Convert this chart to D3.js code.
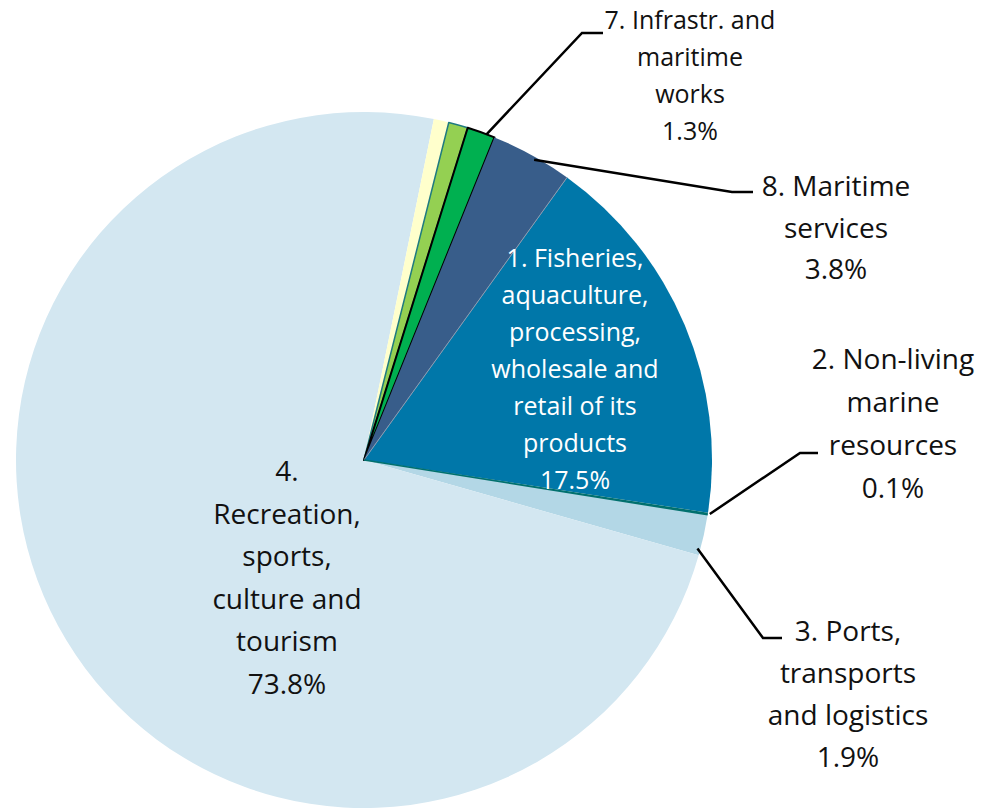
<!DOCTYPE html>
<html>
<head>
<meta charset="utf-8">
<script src="https://cdn.jsdelivr.net/npm/d3@7"></script>
<style>
  body { margin: 0; background: #fff; }
  svg { display: block; }
  text { font-family: "Open Sans", Lato, sans-serif; }
</style>
</head>
<body>
<div id="chart"></div>
<script>
// sector shares (%), clockwise from slice 1
var sectors = ['1. Fisheries', '2. Non-living', '3. Ports', '4. Recreation', '5.', '6.', '7. Infrastr.', '8. Maritime services']
var shares = [17.5, 0.1, 1.9, 73.8, 0.7, 0.9, 1.3, 3.8]
var colors = ['#0077a9', '#00706e', '#b3d7e6', '#d3e7f1', '#ffffcc', '#94d052', '#00b050', '#385d8a']
var strokes = [null, null, null, null, null, '#1f7a80', '#000', null]

// label text lines per slice (null = no label)
var labelLines = [
  ['1. Fisheries,', 'aquaculture,', 'processing,', 'wholesale and', 'retail of its', 'products', '17.5%'],
  ['2. Non-living', 'marine', 'resources', '0.1%'],
  ['3. Ports,', 'transports', 'and logistics', '1.9%'],
  ['4.', 'Recreation,', 'sports,', 'culture and', 'tourism', '73.8%'],
  null,
  null,
  ['7. Infrastr. and', 'maritime', 'works', '1.3%'],
  ['8. Maritime', 'services', '3.8%']
]

var width = 990, height = 808
var cx = 364, cy = 460, radius = 348
var startDeg = 35.7

var svg = d3.select('#chart').append('svg')
  .attr('width', width).attr('height', height)

var pie = d3.pie().sort(null).value(d => d)
  .startAngle(startDeg * Math.PI / 180)
  .endAngle(startDeg * Math.PI / 180 + 2 * Math.PI)
var arcs = pie(shares)
var arc = d3.arc().innerRadius(0).outerRadius(radius)

var g = svg.append('g').attr('transform', 'translate(' + cx + ',' + cy + ')')

g.selectAll('path.slice').data(arcs).enter().append('path')
  .attr('class', 'slice')
  .attr('d', arc)
  .attr('fill', (d, i) => colors[i])
  .attr('stroke', (d, i) => strokes[i] || 'none')
  .attr('stroke-width', (d, i) => i == 6 ? 2 : 1.5)
  .attr('stroke-linejoin', 'round')

// thin grey border between slice 8 and slice 1
g.append('line')
  .attr('x1', 0).attr('y1', 0)
  .attr('x2', radius * Math.sin(arcs[0].startAngle))
  .attr('y2', -radius * Math.cos(arcs[0].startAngle))
  .attr('stroke', '#8a9bb0').attr('stroke-width', 1)
// dark edge of the 0.1% slice
g.append('line')
  .attr('x1', 0).attr('y1', 0)
  .attr('x2', radius * Math.sin(arcs[1].endAngle))
  .attr('y2', -radius * Math.cos(arcs[1].endAngle))
  .attr('stroke', '#00706e').attr('stroke-width', 1.5)

// label layout: centre x, first baseline y, line step, font size, colour
var layout = {
  0: { x: 575, y: 267, step: 37, size: 25, fill: '#fff' },
  1: { x: 893, y: 369, step: 43, size: 28, fill: '#111' },
  2: { x: 848, y: 641, step: 42, size: 28, fill: '#111' },
  3: { x: 287, y: 481, step: 42.5, size: 28, fill: '#111' },
  6: { x: 690, y: 29, step: 37, size: 25, fill: '#111' },
  7: { x: 836, y: 196, step: 41.5, size: 28, fill: '#111' }
}

// leader lines: elbow point and end of the horizontal piece
var leaders = {
  1: { frac: 0.5, rOff: 2, elbow: [800, 453], end: [818, 453] },
  2: { frac: 0.85, rOff: -3, elbow: [763, 638], end: [782, 638] },
  6: { frac: 0.7, rOff: 0, elbow: [582, 33], end: [603, 33] },
  7: { frac: 0.55, rOff: -3, elbow: [732, 192], end: [753, 192] }
}

Object.keys(leaders).forEach(function (k) {
  var a = arcs[k], L = leaders[k]
  var ang = a.startAngle + (a.endAngle - a.startAngle) * L.frac
  var r = radius + L.rOff
  var sx = cx + r * Math.sin(ang), sy = cy - r * Math.cos(ang)
  svg.append('path')
    .attr('d', d3.line()([[sx, sy], L.elbow, L.end]))
    .attr('fill', 'none').attr('stroke', '#000').attr('stroke-width', 2.5)
})

Object.keys(layout).forEach(function (k) {
  var L = layout[k]
  var t = svg.append('text')
    .attr('text-anchor', 'middle')
    .attr('font-size', L.size)
    .attr('fill', L.fill)
  labelLines[k].forEach(function (line, j) {
    t.append('tspan').attr('x', L.x).attr('y', L.y + j * L.step).text(line)
  })
})
</script>
</body>
</html>
